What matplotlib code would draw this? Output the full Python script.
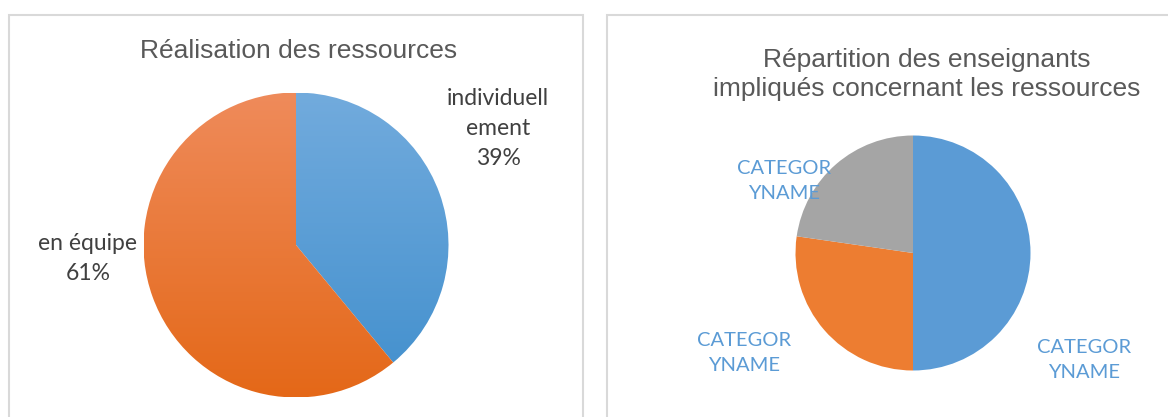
import matplotlib
matplotlib.use("Agg")
import matplotlib.pyplot as plt
import numpy as np
from matplotlib.patches import Rectangle
from matplotlib.colors import LinearSegmentedColormap

# data
left_title = "Réalisation des ressources"
left_labels = ["individuell\nement", "en équipe"]
left_values = [39, 61]

right_title = "Répartition des enseignants\nimpliqués concernant les ressources"
right_labels = ["CATEGOR\nYNAME", "CATEGOR\nYNAME", "CATEGOR\nYNAME"]
right_values = [11, 6, 5]

W, H = 1168, 417
fig = plt.figure(figsize=(W / 100, H / 100), dpi=100)
fig.patch.set_facecolor("white")


def px_axes(cx, cy, r):
    """axes box (pixels, y from top) holding a pie of radius r"""
    return fig.add_axes([(cx - r) / W, (H - cy - r) / H, 2 * r / W, 2 * r / H])


def fig_xy(x, y):
    return x / W, 1 - y / H


# panel borders
for x0, x1 in [(9, 583), (607, 1175)]:
    fig.patches.append(Rectangle(fig_xy(x0, 440), (x1 - x0) / W, (440 - 15) / H,
                                 transform=fig.transFigure, fill=False,
                                 edgecolor="#d9d9d9", linewidth=1.5))

title_kw = dict(fontsize=19, color="#595959", family="Liberation Sans",
                ha="center", va="baseline", linespacing=1.26)

# left pie with vertical gradient fills
ax1 = px_axes(296, 245, 152.5)
wedges, _ = ax1.pie(left_values, startangle=90, counterclock=False, radius=1,
                    colors=["none", "none"], wedgeprops=dict(linewidth=0))
grads = [("#72abdd", "#418fcd"), ("#ef8b5b", "#e46818")]
g = np.linspace(0, 1, 256).reshape(-1, 1)
for w, (top, bot) in zip(wedges, grads):
    cmap = LinearSegmentedColormap.from_list("g", [top, bot])
    im = ax1.imshow(g, cmap=cmap, extent=(-1, 1, -1, 1), aspect="auto",
                    origin="upper", interpolation="bilinear")
    im.set_clip_path(w)
ax1.set_xlim(-1, 1)
ax1.set_ylim(-1, 1)
ax1.set_aspect("auto")
ax1.axis("off")

fig.text(*fig_xy(299, 58), left_title, **title_kw)
lab_kw = dict(fontsize=16.5, color="#404040", family="Lato", ha="center",
              va="baseline", linespacing=1.52)
for (x, y), name, v in zip([(498, 165), (88, 280)], left_labels, left_values):
    fig.text(*fig_xy(x, y), "%s\n%d%%" % (name, v), **lab_kw)

# right pie
ax2 = px_axes(913, 253, 117.5)
ax2.pie(right_values, startangle=90, counterclock=False, radius=1,
        colors=["#5b9bd5", "#ed7d31", "#a5a5a5"], wedgeprops=dict(linewidth=0))
ax2.set_xlim(-1, 1)
ax2.set_ylim(-1, 1)
ax2.set_aspect("auto")
ax2.axis("off")

fig.text(*fig_xy(927, 96), right_title, **title_kw)
cat_kw = dict(fontsize=14.5, color="#5b9bd5", family="Lato", ha="center",
              va="baseline", linespacing=1.6)
for (x, y), name in zip([(1084, 378), (744, 371), (784, 199)], right_labels):
    fig.text(*fig_xy(x, y), name, **cat_kw)

fig.savefig("out.png", dpi=100, facecolor="white")
